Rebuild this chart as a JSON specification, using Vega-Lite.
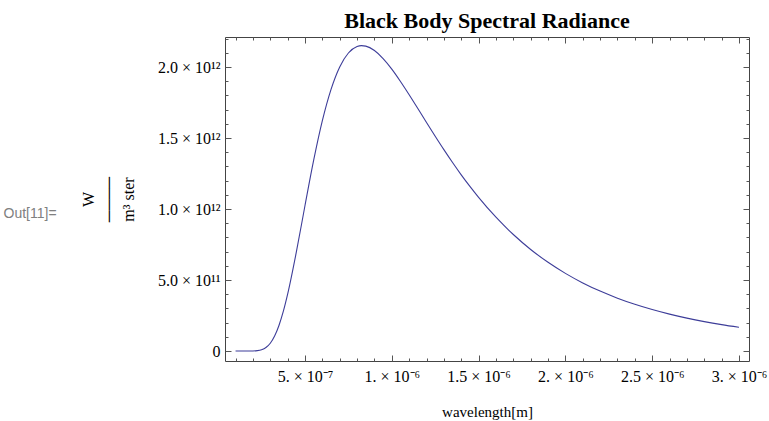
{
  "$schema": "https://vega.github.io/schema/vega-lite/v6.json",
  "width": 524,
  "height": 324,
  "autosize": {"type": "none"},
  "padding": {"left": 225, "top": 37, "right": 20, "bottom": 60},
  "background": "white",
  "title": {"text": "Black Body Spectral Radiance", "font": "Liberation Serif", "fontSize": 22, "fontWeight": "bold", "color": "#000000", "anchor": "middle", "frame": "group", "offset": -13, "baseline": "alphabetic"},
  "config": {
    "view": {"stroke": "#444444", "strokeWidth": 1},
    "axis": {"grid": false, "domain": false, "tickColor": "#555555", "tickWidth": 1, "labelFont": "Liberation Serif", "labelFontSize": 16, "labelColor": "#000000", "titleFont": "Liberation Serif", "titleFontWeight": "normal", "titleColor": "#000000", "titleFontSize": 15, "labelOverlap": false, "labelFlush": false}
  },
  "data": {"values": [
    {"wl": 1.0e-7, "B": 17},
    {"wl": 1.5e-7, "B": 2.0e6},
    {"wl": 2.0e-7, "B": 4.40e8},
    {"wl": 2.25e-7, "B": 2.40e9},
    {"wl": 2.5e-7, "B": 8.80e9},
    {"wl": 2.75e-7, "B": 2.44e10},
    {"wl": 3.0e-7, "B": 5.49e10},
    {"wl": 3.25e-7, "B": 1.055e11},
    {"wl": 3.5e-7, "B": 1.797e11},
    {"wl": 3.75e-7, "B": 2.785e11},
    {"wl": 4.0e-7, "B": 4.002e11},
    {"wl": 4.5e-7, "B": 6.957e11},
    {"wl": 5.0e-7, "B": 1.0245e12},
    {"wl": 5.5e-7, "B": 1.3436e12},
    {"wl": 6.0e-7, "B": 1.622e12},
    {"wl": 6.5e-7, "B": 1.8425e12},
    {"wl": 7.0e-7, "B": 2.0007e12},
    {"wl": 7.5e-7, "B": 2.0987e12},
    {"wl": 8.0e-7, "B": 2.1445e12},
    {"wl": 8.25e-7, "B": 2.1507e12},
    {"wl": 8.5e-7, "B": 2.1471e12},
    {"wl": 9.0e-7, "B": 2.1159e12},
    {"wl": 9.5e-7, "B": 2.0594e12},
    {"wl": 1.0e-6, "B": 1.985e12},
    {"wl": 1.05e-6, "B": 1.898e12},
    {"wl": 1.1e-6, "B": 1.8046e12},
    {"wl": 1.15e-6, "B": 1.7073e12},
    {"wl": 1.2e-6, "B": 1.609e12},
    {"wl": 1.25e-6, "B": 1.5122e12},
    {"wl": 1.3e-6, "B": 1.4179e12},
    {"wl": 1.35e-6, "B": 1.3273e12},
    {"wl": 1.4e-6, "B": 1.2407e12},
    {"wl": 1.45e-6, "B": 1.1589e12},
    {"wl": 1.5e-6, "B": 1.0819e12},
    {"wl": 1.6e-6, "B": 9.42e11},
    {"wl": 1.7e-6, "B": 8.203e11},
    {"wl": 1.8e-6, "B": 7.151e11},
    {"wl": 1.9e-6, "B": 6.245e11},
    {"wl": 2.0e-6, "B": 5.466e11},
    {"wl": 2.1e-6, "B": 4.795e11},
    {"wl": 2.2e-6, "B": 4.218e11},
    {"wl": 2.3e-6, "B": 3.721e11},
    {"wl": 2.4e-6, "B": 3.291e11},
    {"wl": 2.5e-6, "B": 2.919e11},
    {"wl": 2.6e-6, "B": 2.597e11},
    {"wl": 2.7e-6, "B": 2.316e11},
    {"wl": 2.8e-6, "B": 2.071e11},
    {"wl": 2.9e-6, "B": 1.857e11},
    {"wl": 3.0e-6, "B": 1.669e11}
  ]},
  "resolve": {"axis": {"x": "independent", "y": "independent"}},
  "layer": [
    {
      "mark": {"type": "line", "stroke": "#3d3d99", "strokeWidth": 1.1, "interpolate": "monotone", "clip": true},
      "encoding": {
        "x": {"field": "wl", "type": "quantitative", "scale": {"domain": [3.92e-8, 3.0576e-6], "nice": false, "zero": false},
          "axis": {"orient": "bottom", "values": [5e-7, 1e-6, 1.5e-6, 2e-6, 2.5e-6, 3e-6], "tickSize": -6, "labelPadding": 13,
            "labelExpr": "datum.value < 7e-7 ? '5. × 10⁻⁷' : datum.value < 1.2e-6 ? '1. × 10⁻⁶' : datum.value < 1.7e-6 ? '1.5 × 10⁻⁶' : datum.value < 2.2e-6 ? '2. × 10⁻⁶' : datum.value < 2.7e-6 ? '2.5 × 10⁻⁶' : '3. × 10⁻⁶'",
            "title": "wavelength[m]", "titleX": 262, "titleY": 55, "titleBaseline": "alphabetic", "titleAlign": "center", "titleFontSize": 15}},
        "y": {"field": "B", "type": "quantitative", "scale": {"domain": [-7.04e10, 2.2113e12], "nice": false, "zero": false},
          "axis": {"orient": "left", "values": [0, 5e11, 1e12, 1.5e12, 2e12], "tickSize": -6, "labelPadding": 11,
            "labelExpr": "datum.value == 0 ? '0' : datum.value < 7e11 ? '5.0 × 10¹¹' : datum.value < 1.2e12 ? '1.0 × 10¹²' : datum.value < 1.7e12 ? '1.5 × 10¹²' : '2.0 × 10¹²'",
            "title": ["W", "────", "m³ ster"], "titleAngle": 270, "titleX": -137, "titleY": 162, "titleBaseline": "middle", "titleAlign": "center", "titleLineHeight": 20, "titleFontSize": 16}}
      }
    },
    {
      "mark": {"type": "line", "strokeOpacity": 0},
      "encoding": {
        "x": {"field": "wl", "type": "quantitative",
          "axis": {"orient": "bottom", "values": [1e-7, 2e-7, 3e-7, 4e-7, 6e-7, 7e-7, 8e-7, 9e-7, 1.1e-6, 1.2e-6, 1.3e-6, 1.4e-6, 1.6e-6, 1.7e-6, 1.8e-6, 1.9e-6, 2.1e-6, 2.2e-6, 2.3e-6, 2.4e-6, 2.6e-6, 2.7e-6, 2.8e-6, 2.9e-6], "tickSize": -3, "labels": false, "title": null}},
        "y": {"field": "B", "type": "quantitative",
          "axis": {"orient": "left", "values": [1e11, 2e11, 3e11, 4e11, 6e11, 7e11, 8e11, 9e11, 1.1e12, 1.2e12, 1.3e12, 1.4e12, 1.6e12, 1.7e12, 1.8e12, 1.9e12, 2.1e12, 2.2e12], "tickSize": -3, "labels": false,
            "title": "Out[11]=", "titleAngle": 0, "titleX": -222, "titleY": 176, "titleAlign": "left", "titleBaseline": "middle", "titleFont": "Liberation Sans", "titleFontSize": 14, "titleColor": "#808080"}}
      }
    },
    {
      "mark": {"type": "line", "strokeOpacity": 0},
      "encoding": {
        "x": {"field": "wl", "type": "quantitative",
          "axis": {"orient": "top", "values": [5e-7, 1e-6, 1.5e-6, 2e-6, 2.5e-6, 3e-6], "tickSize": -6, "labels": false, "title": null}},
        "y": {"field": "B", "type": "quantitative",
          "axis": {"orient": "right", "values": [0, 5e11, 1e12, 1.5e12, 2e12], "tickSize": -6, "labels": false, "title": null}}
      }
    },
    {
      "mark": {"type": "line", "strokeOpacity": 0},
      "encoding": {
        "x": {"field": "wl", "type": "quantitative",
          "axis": {"orient": "top", "values": [1e-7, 2e-7, 3e-7, 4e-7, 6e-7, 7e-7, 8e-7, 9e-7, 1.1e-6, 1.2e-6, 1.3e-6, 1.4e-6, 1.6e-6, 1.7e-6, 1.8e-6, 1.9e-6, 2.1e-6, 2.2e-6, 2.3e-6, 2.4e-6, 2.6e-6, 2.7e-6, 2.8e-6, 2.9e-6], "tickSize": -3, "labels": false, "title": null}},
        "y": {"field": "B", "type": "quantitative",
          "axis": {"orient": "right", "values": [1e11, 2e11, 3e11, 4e11, 6e11, 7e11, 8e11, 9e11, 1.1e12, 1.2e12, 1.3e12, 1.4e12, 1.6e12, 1.7e12, 1.8e12, 1.9e12, 2.1e12, 2.2e12], "tickSize": -3, "labels": false, "title": null}}
      }
    }
  ]
}
